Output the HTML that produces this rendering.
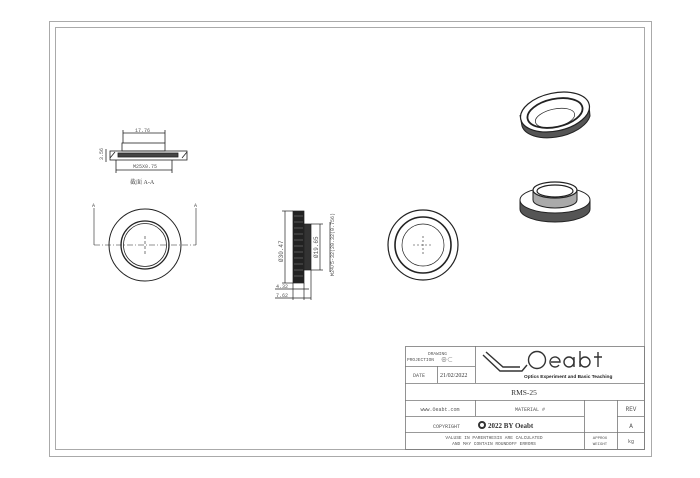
<!DOCTYPE html>
<html><head><meta charset="utf-8"><style>
html,body{margin:0;padding:0;background:#fff}
svg{display:block}
text{font-family:"Liberation Serif","Noto Serif CJK SC",serif;fill:#333}
.m{font-family:"Liberation Mono",monospace;fill:#555}
</style></head><body>
<svg width="700" height="478" viewBox="0 0 700 478" xmlns="http://www.w3.org/2000/svg">
<rect x="49.5" y="21.5" width="602" height="435" fill="none" stroke="#aaa" stroke-width="1"/>
<rect x="55.5" y="27.5" width="589" height="422" fill="none" stroke="#aaa" stroke-width="1"/>

<!-- section view -->
<g stroke="#222" fill="none" stroke-width="0.8">
<rect x="122" y="143" width="43" height="8"/>
<rect x="110" y="151" width="77" height="9"/>
<rect x="118" y="153" width="60" height="4" fill="#444"/>
<line x1="123" y1="133" x2="165" y2="133"/><line x1="123" y1="130" x2="123" y2="143"/><line x1="165" y1="130" x2="165" y2="143"/>
<line x1="116" y1="170" x2="172" y2="170"/><line x1="116" y1="160" x2="116" y2="173"/><line x1="172" y1="160" x2="172" y2="173"/>
<line x1="106" y1="149" x2="106" y2="162"/>
<line x1="110" y1="158" x2="115" y2="152"/><line x1="182" y1="158" x2="187" y2="152"/>
</g>
<text x="135" y="132" font-size="5" class="m">17.76</text>
<text x="133" y="168" font-size="5" class="m">M25X0.75</text>
<text x="103" y="160" font-size="5" class="m" transform="rotate(-90 103 160)">3.56</text>
<text x="130" y="184" font-size="6">截面 A-A</text>

<!-- front view -->
<g stroke="#222" fill="none">
<circle cx="145" cy="245" r="36" stroke-width="1"/>
<circle cx="145" cy="245" r="24" stroke-width="1.3"/>
<circle cx="145" cy="245" r="21.5" stroke-width="0.8"/>
<line x1="94" y1="245" x2="196" y2="245" stroke-width="0.6" stroke-dasharray="6,2,1,2"/>
<line x1="94" y1="208" x2="94" y2="245" stroke-width="0.6"/>
<line x1="196" y1="208" x2="196" y2="245" stroke-width="0.6"/>
<line x1="145" y1="236" x2="145" y2="254" stroke-width="0.6" stroke-dasharray="3,2"/>
</g>
<text x="92" y="207" font-size="5" class="m">A</text><text x="194" y="207" font-size="5" class="m">A</text>

<!-- side view -->
<g stroke="#222" fill="none" stroke-width="0.7">
<rect x="293" y="211" width="11" height="72" fill="#222"/>
<rect x="304" y="224" width="7" height="46" fill="#333"/>
<line x1="285" y1="211" x2="285" y2="283"/><line x1="282" y1="211" x2="293" y2="211"/><line x1="282" y1="283" x2="293" y2="283"/>
<line x1="320" y1="224" x2="320" y2="270"/><line x1="311" y1="224" x2="323" y2="224"/><line x1="311" y1="270" x2="323" y2="270"/>
<line x1="330" y1="222" x2="330" y2="272"/>
<line x1="275" y1="289" x2="309" y2="289"/><line x1="275" y1="298" x2="311" y2="298"/>
<line x1="304" y1="283" x2="304" y2="300"/><line x1="311" y1="270" x2="311" y2="300"/><line x1="293" y1="283" x2="293" y2="300"/>
</g>
<g stroke="#888" stroke-width="0.5">
<line x1="294" y1="216" x2="303" y2="216"/><line x1="294" y1="222" x2="303" y2="222"/><line x1="294" y1="228" x2="303" y2="228"/><line x1="294" y1="234" x2="303" y2="234"/><line x1="294" y1="240" x2="303" y2="240"/><line x1="294" y1="246" x2="303" y2="246"/><line x1="294" y1="252" x2="303" y2="252"/><line x1="294" y1="258" x2="303" y2="258"/><line x1="294" y1="264" x2="303" y2="264"/><line x1="294" y1="270" x2="303" y2="270"/><line x1="294" y1="276" x2="303" y2="276"/>
</g>
<text x="283" y="262" font-size="6" class="m" transform="rotate(-90 283 262)">Ø30.47</text>
<text x="318" y="258" font-size="6" class="m" transform="rotate(-90 318 258)">Ø19.65</text>
<text x="334" y="276" font-size="5" class="m" transform="rotate(-90 334 276)">M24/5-32(20.32(0.756)</text>
<text x="276" y="288" font-size="5" class="m">4.32</text>
<text x="276" y="297" font-size="5" class="m">7.62</text>

<!-- right front view -->
<g stroke="#222" fill="none">
<circle cx="423" cy="245" r="35" stroke-width="1.2"/>
<circle cx="423" cy="245" r="28" stroke-width="1.6"/>
<circle cx="423" cy="245" r="21" stroke-width="0.7"/>
<line x1="413" y1="245" x2="433" y2="245" stroke-width="0.6" stroke-dasharray="2,2"/>
<line x1="423" y1="236" x2="423" y2="254" stroke-width="0.6" stroke-dasharray="2,2"/>
</g>

<!-- iso top ring -->
<g stroke="#222" fill="none">
<path d="M520 115 L522 126 A35 19 -12 0 0 590 116 L589 105" fill="#555"/>
<ellipse cx="555" cy="112" rx="35" ry="19" transform="rotate(-12 555 112)" fill="#fff" stroke-width="1.2"/>
<ellipse cx="555" cy="113" rx="28" ry="14" transform="rotate(-12 555 113)" stroke-width="1.8"/>
<ellipse cx="555" cy="118" rx="20" ry="9" transform="rotate(-12 555 118)" stroke-width="0.7"/>
</g>
<!-- iso bottom ring -->
<g stroke="#222" fill="none">
<path d="M520 200 L520 209 A35 13 0 0 0 590 209 L590 200" fill="#555"/>
<ellipse cx="555" cy="200" rx="35" ry="13" fill="#fff" stroke-width="1"/>
<path d="M533 190 L533 200 A22 8 0 0 0 577 200 L577 190" fill="#aaa"/>
<ellipse cx="555" cy="190" rx="22" ry="8" fill="#fff" stroke-width="1.2"/>
<ellipse cx="555" cy="191" rx="18" ry="6" stroke-width="1.2"/>
</g>

<!-- title block -->
<g stroke="#777" fill="none" stroke-width="0.8">
<rect x="405.5" y="346.5" width="239" height="103"/>
<line x1="405" y1="366.5" x2="475" y2="366.5"/>
<line x1="475.5" y1="346" x2="475.5" y2="383"/>
<line x1="437.5" y1="366" x2="437.5" y2="383"/>
<line x1="405" y1="383.5" x2="644" y2="383.5"/>
<line x1="405" y1="400.5" x2="644" y2="400.5"/>
<line x1="405" y1="416.5" x2="584" y2="416.5"/>
<line x1="617" y1="416.5" x2="644" y2="416.5"/>
<line x1="405" y1="432.5" x2="644" y2="432.5"/>
<line x1="475.5" y1="400" x2="475.5" y2="416"/>
<line x1="584.5" y1="400" x2="584.5" y2="449"/>
<line x1="617.5" y1="400" x2="617.5" y2="449"/>
</g>
<text x="428" y="355" font-size="4.5" class="m">DRAWING</text>
<text x="407" y="361" font-size="4.5" class="m">PROJECTION</text>
<text x="441" y="362" font-size="6">⊕⊂</text>
<text x="413" y="377" font-size="5" class="m">DATE</text>
<text x="440" y="377" font-size="6">21/02/2022</text>
<g stroke="#333" fill="none" stroke-width="1.4">
<path d="M483 355 L500 371 L522 371 L527 365"/><path d="M486 352 L503 367 L520 367"/>
<circle cx="537" cy="360" r="8.5"/>
<path d="M551 362 h9 a5 5 0 1 0 -1 3"/><circle cx="569" cy="362" r="5"/><path d="M574 357 v10"/>
<path d="M580 351 v16"/><circle cx="585" cy="362" r="5"/><path d="M598 352 v15 M594 357 h8"/>
</g>
<text x="524" y="378" font-size="4.8" font-weight="bold" style="font-family:'Liberation Sans',sans-serif;fill:#222">Optics Experiment and Basic Teaching</text>
<text x="524" y="395" font-size="7.5" text-anchor="middle">RMS-25</text>
<text x="440" y="411" font-size="5" class="m" text-anchor="middle">www.Oeabt.com</text>
<text x="530" y="411" font-size="5" class="m" text-anchor="middle">MATERIAL #</text>
<text x="631" y="411" font-size="6" class="m" text-anchor="middle">REV</text>
<text x="433" y="428" font-size="5" class="m">COPYRIGHT</text>
<circle cx="482" cy="425" r="3" fill="none" stroke="#333" stroke-width="2"/>
<text x="488" y="428" font-size="7" font-weight="bold">2022 BY Oeabt</text>
<text x="631" y="428" font-size="6" class="m" text-anchor="middle">A</text>
<text x="494" y="439" font-size="4.5" class="m" text-anchor="middle">VALUSE IN PARENTHESIS ARE CALCULATED</text>
<text x="494" y="445" font-size="4.5" class="m" text-anchor="middle">AND MAY CONTAIN ROUNDOFF ERRORS</text>
<text x="600" y="439" font-size="4" class="m" text-anchor="middle">APPROX</text>
<text x="600" y="445" font-size="4" class="m" text-anchor="middle">WEIGHT</text>
<text x="631" y="443" font-size="5" class="m" text-anchor="middle">kg</text>
</svg>
</body></html>
